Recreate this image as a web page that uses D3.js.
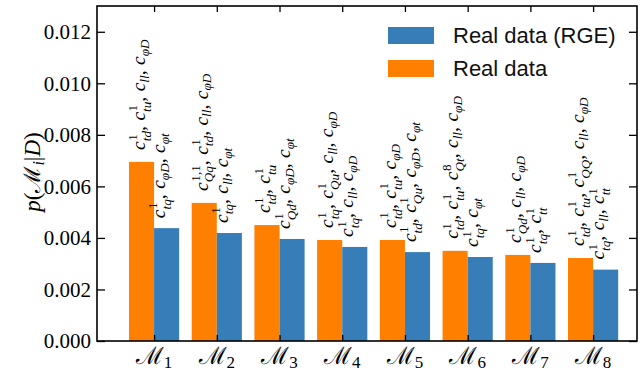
<!DOCTYPE html>
<html>
<head>
<meta charset="utf-8">
<script src="https://cdn.jsdelivr.net/npm/d3@7"></script>
<style>
  html, body { margin: 0; padding: 0; background: #fff; }
  svg { display: block; }
</style>
</head>
<body>
<svg id="chart" width="643" height="374"></svg>
<script>
// ---------------- data ----------------
const models = ["1", "2", "3", "4", "5", "6", "7", "8"];
const realData = [0.00695, 0.00536, 0.00450, 0.00392, 0.00392, 0.00350, 0.00334, 0.00322];
const realDataRGE = [0.00438, 0.00419, 0.00396, 0.00365, 0.00345, 0.00326, 0.00303, 0.00277];
const yTicks = [0, 0.002, 0.004, 0.006, 0.008, 0.010, 0.012];
const seriesNames = ["Real data (RGE)", "Real data"];
const realDataLabels = [
  "c^1_td, c^1_tu, c_ll, c_φD",
  "c^1,1_Qq, c^1_td, c_ll, c_φD",
  "c^1_td, c^1_tu",
  "c^1_tq, c^1_Qu, c_ll, c_φD",
  "c^1_td, c^1_tu, c_φD",
  "c^1_td, c^1_tu, c^8_Qt, c_ll, c_φD",
  "c^1_Qd, c_ll, c_φD",
  "c^1_td, c^1_tu, c^1_QQ, c_ll, c_φD"
];
const realDataRGELabels = [
  "c^1_tq, c_φD, c_φt",
  "c^1_tq, c_ll, c_φt",
  "c^1_Qd, c_φD, c_φt",
  "c^1_tq, c_ll, c_φD",
  "c^1_td, c^1_Qu, c_φD, c_φt",
  "c^1_tq, c_φt",
  "c^1_tq, c^1_tt",
  "c^1_tq, c_ll, c^1_tt"
];

// ---------------- setup ----------------
const ORANGE = "#ff7f00", BLUE = "#377eb8";
const svg = d3.select("#chart");
const L = 97, R = 637, T = 6, B = 341;
const serif = "'Liberation Serif', 'DejaVu Serif', serif";
const x = d3.scaleLinear().domain([-0.91, 7.70]).range([L, R]);
const y = d3.scaleLinear().domain([0, 0.013]).range([B, T]);
const bw = 0.4;

// bars
const idx = d3.range(models.length);
svg.append("g").selectAll("rect").data(idx).join("rect")
  .attr("x", i => x(i - bw)).attr("width", i => x(i) - x(i - bw))
  .attr("y", i => y(realData[i])).attr("height", i => y(0) - y(realData[i]))
  .attr("fill", ORANGE);
svg.append("g").selectAll("rect").data(idx).join("rect")
  .attr("x", i => x(i)).attr("width", i => x(i + bw) - x(i))
  .attr("y", i => y(realDataRGE[i])).attr("height", i => y(0) - y(realDataRGE[i]))
  .attr("fill", BLUE);

// axes
const axL = svg.append("g").attr("transform", `translate(${L},0)`)
  .call(d3.axisLeft(y).tickValues(yTicks).tickSize(-8).tickPadding(6).tickFormat(d3.format(".3f")));
const axR = svg.append("g").attr("transform", `translate(${R},0)`)
  .call(d3.axisRight(y).tickValues(yTicks).tickSize(-8).tickFormat(""));
const axB = svg.append("g").attr("transform", `translate(0,${B})`)
  .call(d3.axisBottom(x).tickValues(idx).tickSize(-6).tickFormat(""));
const axT = svg.append("g").attr("transform", `translate(0,${T})`)
  .call(d3.axisTop(x).tickValues(idx).tickSize(-6).tickFormat(""));
[axL, axR, axB, axT].forEach(a => {
  a.select(".domain").remove();
  a.attr("font-family", null).attr("font-size", null);
  a.selectAll(".tick line").attr("stroke", "#000").attr("stroke-width", 1.3);
});
axL.selectAll("text").style("font-family", serif).style("font-size", "21px").attr("fill", "#000");

svg.append("rect").attr("x", L).attr("y", T).attr("width", R - L).attr("height", B - T)
  .attr("fill", "none").attr("stroke", "#000").attr("stroke-width", 1.6);

// x tick labels
const xl = svg.append("g").selectAll("text").data(idx).join("text")
  .attr("x", i => x(i)).attr("y", 364).attr("text-anchor", "middle")
  .attr("fill", "#000");
xl.append("tspan").style("font-family", "'DejaVu Serif', serif")
  .style("font-size", "24px").text("ℳ");
xl.append("tspan").style("font-family", serif).style("font-size", "17px").attr("dy", 4).text(i => models[i]);

// y label
const yl = svg.append("text").attr("transform", "translate(40,172) rotate(-90)")
  .attr("text-anchor", "middle").style("font-family", serif).style("font-size", "23px").attr("fill", "#000");
yl.append("tspan").style("font-style", "italic").text("p");
yl.append("tspan").text("(");
yl.append("tspan").style("font-family", "'DejaVu Serif', serif").text("ℳ");
yl.append("tspan").style("font-style", "italic").style("font-size", "16px").attr("dy", 4).text("i");
yl.append("tspan").attr("dy", -4).text("|");
yl.append("tspan").style("font-style", "italic").text("D");
yl.append("tspan").text(")");

// math annotation
const F = 19.5;
function drawMath(parent, str, cx, bottomY) {
  const outer = parent.append("g");
  const g = outer.append("g");
  let px = 0;
  const toks = str.split(", ");
  toks.forEach((tok, ti) => {
    const m = tok.match(/^([^\^_]+)(?:\^([^_]+))?(?:_(.+))?$/);
    const base = m[1], sup = m[2], sub = m[3];
    const t = g.append("text").attr("x", px).attr("y", 0).style("font-family", serif)
      .style("font-style", "italic").style("font-size", F + "px").text(base);
    px += t.node().getComputedTextLength();
    let w = 0;
    if (sup) {
      const s = g.append("text").attr("x", px + 0.5).attr("y", -0.38 * F).style("font-family", serif)
        .style("font-size", 0.68 * F + "px").text(sup);
      w = Math.max(w, s.node().getComputedTextLength() + 0.5);
    }
    if (sub) {
      const s = g.append("text").attr("x", px).attr("y", (sup ? 0.3 : 0.2) * F).style("font-family", serif)
        .style("font-style", "italic").style("font-size", 0.68 * F + "px").text(sub);
      w = Math.max(w, s.node().getComputedTextLength());
    }
    px += w;
    if (ti < toks.length - 1) {
      const c = g.append("text").attr("x", px).attr("y", 0).style("font-family", serif)
        .style("font-size", F + "px").text(",");
      px += c.node().getComputedTextLength() + 0.28 * F;
    }
  });
  const bb = g.node().getBBox();
  outer.attr("transform", `translate(${cx},${bottomY}) rotate(-90) translate(${-bb.x},${-(bb.y + bb.height / 2)})`);
}
const ann = svg.append("g").attr("fill", "#000");
idx.forEach(i => {
  drawMath(ann, realDataLabels[i], x(i - bw / 2) - 2, y(realData[i]) - 12);
  drawMath(ann, realDataRGELabels[i], x(i + bw / 2) - 7, y(realDataRGE[i]) - 10);
});

// legend
const legend = svg.append("g");
[[BLUE, seriesNames[0], 27], [ORANGE, seriesNames[1], 60]].forEach(([c, name, ty]) => {
  legend.append("rect").attr("x", 388).attr("y", ty).attr("width", 46).attr("height", 17).attr("fill", c);
  legend.append("text").attr("x", 453).attr("y", ty + 16).style("font-family", "'Liberation Sans', Arial, sans-serif")
    .style("font-size", "22px").attr("fill", "#111").text(name);
});
</script>
</body>
</html>
